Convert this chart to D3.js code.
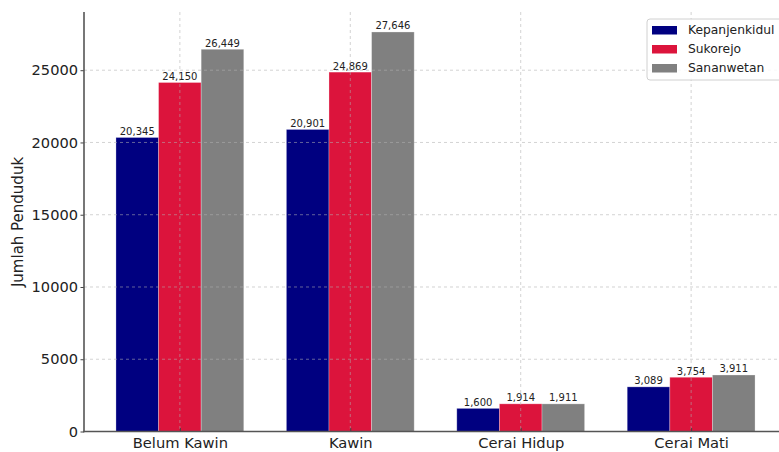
<!DOCTYPE html>
<html><head><meta charset="utf-8">
<script src="https://cdn.jsdelivr.net/npm/d3@7"></script>
<style>body{margin:0;background:#fff}svg{display:block;font-family:"DejaVu Sans",sans-serif}</style>
</head><body>
<svg id="c" width="779" height="452"></svg>
<script>
const categories = ["Belum Kawin", "Kawin", "Cerai Hidup", "Cerai Mati"];
const seriesNames = ["Kepanjenkidul", "Sukorejo", "Sananwetan"];
const kepanjenkidul = [20345, 20901, 1600, 3089];
const sukorejo = [24150, 24869, 1914, 3754];
const sananwetan = [26449, 27646, 1911, 3911];
const colors = ["#000080", "#DC143C", "#808080"];
const yTicks = [0, 5000, 10000, 15000, 20000, 25000];
const yLabel = "Jumlah Penduduk";

const series = [kepanjenkidul, sukorejo, sananwetan];
const svg = d3.select("#c");
const x = d3.scaleLinear().domain([-0.5625, 3.5625]).range([84, 787]);
const y = d3.scaleLinear().domain([0, 29028]).range([431.5, 12]);
const bw = x(0.25) - x(0);
const fmt = d3.format(",");

// bars
series.forEach((vals, s) => {
  svg.append("g").selectAll("rect").data(vals).join("rect")
    .attr("x", (d, i) => x(i + (s - 1) * 0.25 - 0.125))
    .attr("y", d => y(d))
    .attr("width", bw)
    .attr("height", d => y(0) - y(d))
    .attr("fill", colors[s])
    .attr("stroke", "#fff").attr("stroke-opacity", 0.35).attr("stroke-width", 0.8);
  svg.append("g").selectAll("text").data(vals).join("text")
    .attr("x", (d, i) => x(i + (s - 1) * 0.25))
    .attr("y", d => y(d) - 2.5)
    .attr("text-anchor", "middle")
    .attr("font-size", 10).attr("fill", "#222")
    .text(d => fmt(d));
});

// grid on top
const grid = svg.append("g").attr("stroke", "#b0b0b0").attr("stroke-opacity", 0.7)
  .attr("stroke-dasharray", "3,3").attr("stroke-width", 0.8);
yTicks.slice(1).forEach(t => grid.append("line").attr("x1", 84).attr("x2", 787).attr("y1", y(t)).attr("y2", y(t)));
categories.forEach((c, i) => grid.append("line").attr("x1", x(i)).attr("x2", x(i)).attr("y1", 12).attr("y2", y(0)));

// axes
const yAxis = d3.axisLeft(y).tickValues(yTicks).tickSize(3.5).tickPadding(2.5).tickFormat(d3.format("d"));
const gy = svg.append("g").attr("transform", "translate(84,0)").call(yAxis);
gy.select(".domain").remove();
gy.selectAll("text").attr("font-size", 14.6).attr("fill", "#222").attr("font-family", "DejaVu Sans");
gy.selectAll("line").attr("stroke", "#444");

const xAxis = d3.axisBottom(x).tickValues(d3.range(categories.length)).tickSize(-3.5).tickPadding(8).tickFormat(i => categories[i]);
const gx = svg.append("g").attr("transform", `translate(0,${y(0)})`).call(xAxis);
gx.select(".domain").remove();
gx.selectAll("text").attr("font-size", 14.7).attr("fill", "#222").attr("font-family", "DejaVu Sans")
  .attr("y", 16.3).attr("dy", 0);
gx.selectAll("line").attr("stroke", "#444");

svg.append("line").attr("x1", 84).attr("x2", 84).attr("y1", 12).attr("y2", y(0) + 0.75)
  .attr("stroke", "#555").attr("stroke-width", 1.6);
svg.append("line").attr("x1", 83.2).attr("x2", 787).attr("y1", y(0)).attr("y2", y(0))
  .attr("stroke", "#555").attr("stroke-width", 1.6);

svg.append("text").attr("transform", `translate(22.5,222) rotate(-90)`)
  .attr("text-anchor", "middle").attr("font-size", 15).attr("fill", "#222").text(yLabel);

// legend
const lg = svg.append("g");
lg.append("rect").attr("x", 647).attr("y", 19).attr("width", 140).attr("height", 61).attr("rx", 3)
  .attr("fill", "#fff").attr("fill-opacity", 0.85).attr("stroke", "#d0d0d0");
seriesNames.forEach((n, s) => {
  const cy = 30 + s * 19;
  lg.append("rect").attr("x", 652).attr("y", cy - 4).attr("width", 25).attr("height", 8.5).attr("fill", colors[s]);
  lg.append("text").attr("x", 688).attr("y", cy).attr("dy", "0.36em").attr("font-size", 12.3).attr("fill", "#222").text(n);
});
</script>
</body></html>
